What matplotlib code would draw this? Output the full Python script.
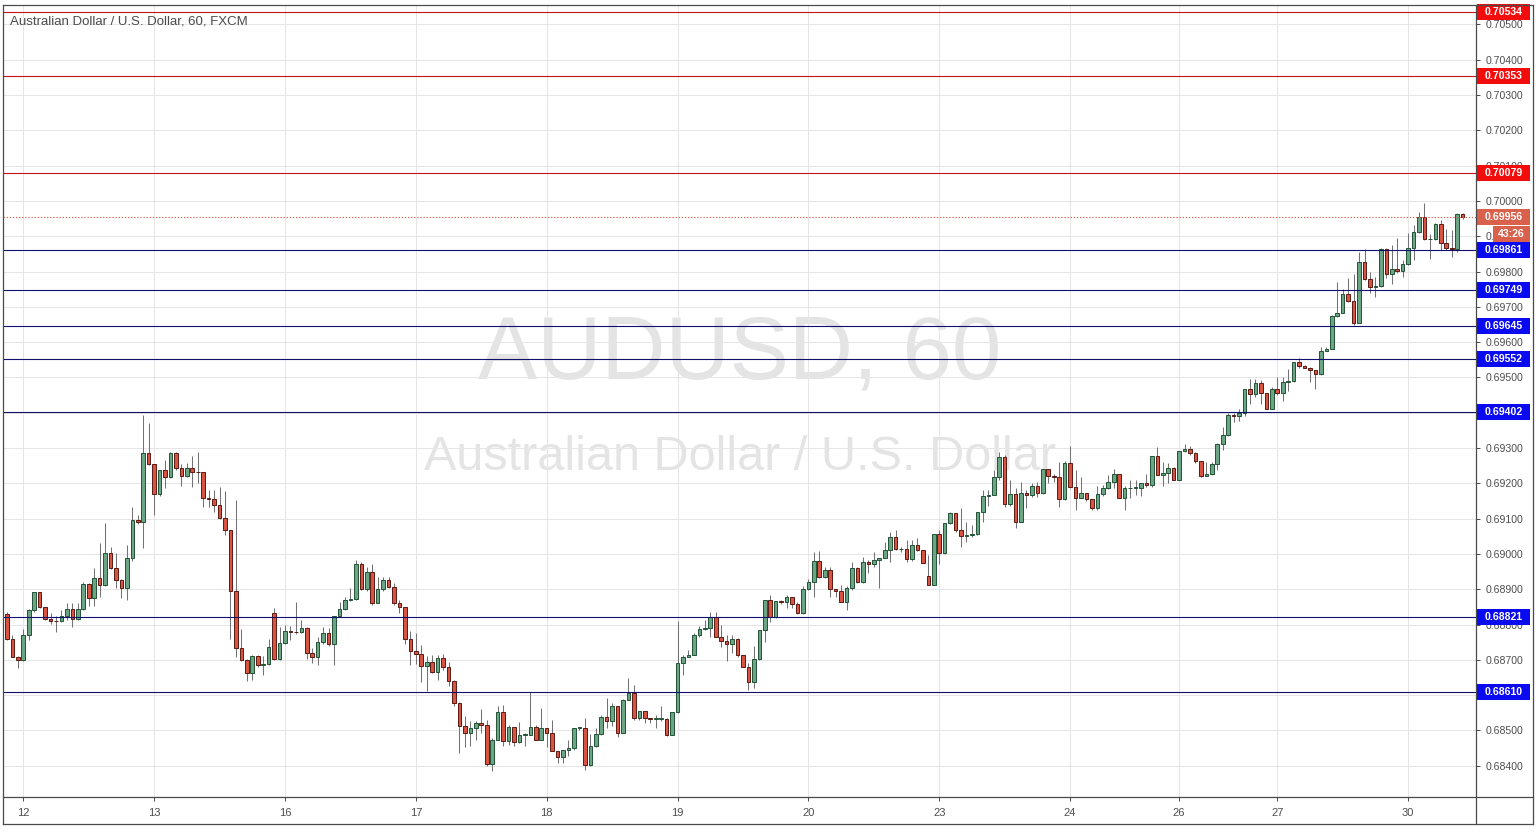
import matplotlib
matplotlib.use('Agg')
import matplotlib.pyplot as plt
from matplotlib.lines import Line2D
from matplotlib.patches import Rectangle
import numpy as np

plt.rcParams['font.family'] = ['Liberation Sans', 'DejaVu Sans']

# ---------------- data ----------------
title = "Australian Dollar / U.S. Dollar, 60, FXCM"
watermark_symbol = "AUDUSD, 60"
watermark_name = "Australian Dollar / U.S. Dollar"

day_labels = ['12', '13', '16', '17', '18', '19', '20', '23', '24', '26', '27', '30']
day_index = [3, 27, 51, 75, 99, 123, 147, 171, 195, 215, 233, 257]

first_open = 0.68829
gap_opens = {49: 0.68832, 169: 0.68938}

closes = [
    0.68759, 0.68709, 0.68700, 0.68771, 0.68840, 0.68891, 0.68849, 0.68816, 0.68810, 0.68809,
    0.68823, 0.68843, 0.68815, 0.68843, 0.68915, 0.68875, 0.68931, 0.68912, 0.69002, 0.68959,
    0.68926, 0.68903, 0.68990, 0.69096, 0.69091, 0.69285, 0.69256, 0.69170, 0.69238, 0.69217,
    0.69285, 0.69244, 0.69221, 0.69244, 0.69233, 0.69231, 0.69160, 0.69156, 0.69140, 0.69101,
    0.69068, 0.68896, 0.68733, 0.68700, 0.68662, 0.68711, 0.68686, 0.68688, 0.68736, 0.68702,
    0.68747, 0.68783, 0.68780, 0.68778, 0.68790, 0.68719, 0.68708, 0.68752, 0.68775, 0.68744,
    0.68823, 0.68843, 0.68870, 0.68872, 0.68972, 0.68900, 0.68948, 0.68862, 0.68900, 0.68926,
    0.68906, 0.68860, 0.68849, 0.68759, 0.68724, 0.68716, 0.68684, 0.68695, 0.68667, 0.68705,
    0.68679, 0.68640, 0.68577, 0.68513, 0.68492, 0.68507, 0.68521, 0.68516, 0.68405, 0.68474,
    0.68552, 0.68469, 0.68509, 0.68466, 0.68488, 0.68488, 0.68511, 0.68474, 0.68507, 0.68494,
    0.68443, 0.68425, 0.68445, 0.68449, 0.68507, 0.68507, 0.68403, 0.68455, 0.68490, 0.68538,
    0.68526, 0.68570, 0.68494, 0.68585, 0.68606, 0.68535, 0.68554, 0.68535, 0.68532, 0.68532,
    0.68533, 0.68488, 0.68552, 0.68691, 0.68707, 0.68714, 0.68771, 0.68787, 0.68789, 0.68822,
    0.68766, 0.68754, 0.68745, 0.68758, 0.68714, 0.68681, 0.68638, 0.68702, 0.68786, 0.68871,
    0.68822, 0.68868, 0.68864, 0.68877, 0.68858, 0.68832, 0.68900, 0.68921, 0.68980, 0.68934,
    0.68955, 0.68902, 0.68894, 0.68863, 0.68903, 0.68959, 0.68921, 0.68976, 0.68971, 0.68983,
    0.68988, 0.69011, 0.69047, 0.69013, 0.69013, 0.68985, 0.69025, 0.69011, 0.68975, 0.68912,
    0.69058, 0.69004, 0.69087, 0.69115, 0.69068, 0.69051, 0.69053, 0.69056, 0.69120, 0.69164,
    0.69167, 0.69217, 0.69275, 0.69143, 0.69169, 0.69091, 0.69172, 0.69166, 0.69192, 0.69174,
    0.69242, 0.69221, 0.69217, 0.69155, 0.69259, 0.69189, 0.69160, 0.69172, 0.69155, 0.69129,
    0.69169, 0.69186, 0.69205, 0.69226, 0.69160, 0.69186, 0.69188, 0.69188, 0.69200, 0.69195,
    0.69277, 0.69224, 0.69230, 0.69245, 0.69211, 0.69293, 0.69298, 0.69285, 0.69264, 0.69221,
    0.69226, 0.69255, 0.69313, 0.69337, 0.69394, 0.69391, 0.69400, 0.69466, 0.69453, 0.69483,
    0.69455, 0.69412, 0.69466, 0.69455, 0.69488, 0.69491, 0.69544, 0.69532, 0.69527, 0.69521,
    0.69511, 0.69576, 0.69582, 0.69674, 0.69683, 0.69736, 0.69717, 0.69655, 0.69828, 0.69778,
    0.69757, 0.69759, 0.69863, 0.69793, 0.69806, 0.69802, 0.69821, 0.69866, 0.69913, 0.69954,
    0.69891, 0.69892, 0.69935, 0.69880, 0.69866, 0.69863, 0.69962, 0.69956,
]

highs = [
    0.68837, 0.68771, 0.68711, 0.68787, 0.68843, 0.68893, 0.68893, 0.68851, 0.68832, 0.68825,
    0.68840, 0.68860, 0.68860, 0.68862, 0.68922, 0.68917, 0.68959, 0.69030, 0.69089, 0.69021,
    0.69002, 0.68928, 0.69025, 0.69132, 0.69110, 0.69394, 0.69372, 0.69256, 0.69239, 0.69266,
    0.69289, 0.69289, 0.69256, 0.69258, 0.69277, 0.69288, 0.69230, 0.69181, 0.69181, 0.69190,
    0.69179, 0.69068, 0.69153, 0.68787, 0.68702, 0.68714, 0.68713, 0.68711, 0.68759, 0.68846,
    0.68794, 0.68799, 0.68796, 0.68865, 0.68813, 0.68792, 0.68733, 0.68766, 0.68792, 0.68790,
    0.68825, 0.68865, 0.68879, 0.68903, 0.68983, 0.68978, 0.68964, 0.68972, 0.68936, 0.68936,
    0.68936, 0.68917, 0.68870, 0.68851, 0.68783, 0.68776, 0.68743, 0.68710, 0.68714, 0.68714,
    0.68717, 0.68693, 0.68644, 0.68582, 0.68540, 0.68526, 0.68526, 0.68560, 0.68530, 0.68478,
    0.68568, 0.68573, 0.68516, 0.68509, 0.68523, 0.68492, 0.68610, 0.68516, 0.68563, 0.68507,
    0.68530, 0.68443, 0.68445, 0.68474, 0.68507, 0.68511, 0.68535, 0.68491, 0.68507, 0.68544,
    0.68592, 0.68577, 0.68570, 0.68589, 0.68648, 0.68629, 0.68554, 0.68554, 0.68535, 0.68544,
    0.68568, 0.68535, 0.68552, 0.68809, 0.68714, 0.68728, 0.68776, 0.68796, 0.68813, 0.68837,
    0.68837, 0.68799, 0.68770, 0.68770, 0.68761, 0.68714, 0.68690, 0.68739, 0.68786, 0.68871,
    0.68884, 0.68868, 0.68871, 0.68884, 0.68879, 0.68865, 0.68909, 0.68928, 0.69006, 0.69009,
    0.68964, 0.68964, 0.68902, 0.68912, 0.68909, 0.68978, 0.68964, 0.68992, 0.68983, 0.69006,
    0.68990, 0.69035, 0.69063, 0.69068, 0.69019, 0.69039, 0.69039, 0.69044, 0.69011, 0.68997,
    0.69058, 0.69068, 0.69087, 0.69120, 0.69115, 0.69129, 0.69091, 0.69082, 0.69120, 0.69181,
    0.69181, 0.69238, 0.69290, 0.69280, 0.69209, 0.69186, 0.69205, 0.69181, 0.69200, 0.69205,
    0.69242, 0.69242, 0.69226, 0.69261, 0.69264, 0.69306, 0.69238, 0.69217, 0.69174, 0.69155,
    0.69192, 0.69195, 0.69224, 0.69240, 0.69226, 0.69192, 0.69209, 0.69211, 0.69200, 0.69226,
    0.69277, 0.69304, 0.69261, 0.69259, 0.69247, 0.69293, 0.69313, 0.69306, 0.69290, 0.69264,
    0.69261, 0.69261, 0.69315, 0.69360, 0.69400, 0.69400, 0.69410, 0.69466, 0.69497, 0.69497,
    0.69493, 0.69455, 0.69474, 0.69502, 0.69502, 0.69525, 0.69544, 0.69554, 0.69535, 0.69531,
    0.69521, 0.69587, 0.69587, 0.69677, 0.69771, 0.69752, 0.69783, 0.69793, 0.69856, 0.69863,
    0.69800, 0.69784, 0.69868, 0.69866, 0.69875, 0.69894, 0.69833, 0.69908, 0.69932, 0.69970,
    0.69995, 0.69906, 0.69937, 0.69946, 0.69922, 0.69918, 0.69967, 0.69967,
]

lows = [
    0.68757, 0.68708, 0.68676, 0.68698, 0.68757, 0.68837, 0.68846, 0.68813, 0.68802, 0.68780,
    0.68808, 0.68813, 0.68794, 0.68813, 0.68841, 0.68853, 0.68853, 0.68879, 0.68910, 0.68957,
    0.68903, 0.68874, 0.68870, 0.68981, 0.69085, 0.69016, 0.69252, 0.69110, 0.69164, 0.69186,
    0.69214, 0.69238, 0.69192, 0.69219, 0.69190, 0.69200, 0.69132, 0.69132, 0.69120, 0.69098,
    0.69054, 0.68759, 0.68709, 0.68698, 0.68639, 0.68643, 0.68681, 0.68658, 0.68686, 0.68700,
    0.68700, 0.68745, 0.68757, 0.68774, 0.68775, 0.68702, 0.68692, 0.68686, 0.68745, 0.68738,
    0.68686, 0.68821, 0.68841, 0.68868, 0.68870, 0.68898, 0.68896, 0.68856, 0.68860, 0.68896,
    0.68903, 0.68856, 0.68832, 0.68745, 0.68686, 0.68689, 0.68636, 0.68613, 0.68662, 0.68644,
    0.68672, 0.68625, 0.68570, 0.68436, 0.68453, 0.68457, 0.68474, 0.68492, 0.68400, 0.68384,
    0.68474, 0.68457, 0.68459, 0.68455, 0.68464, 0.68455, 0.68488, 0.68474, 0.68474, 0.68453,
    0.68443, 0.68408, 0.68408, 0.68428, 0.68445, 0.68502, 0.68389, 0.68400, 0.68453, 0.68488,
    0.68507, 0.68513, 0.68481, 0.68492, 0.68585, 0.68530, 0.68530, 0.68521, 0.68521, 0.68507,
    0.68526, 0.68483, 0.68488, 0.68549, 0.68658, 0.68708, 0.68714, 0.68766, 0.68785, 0.68766,
    0.68766, 0.68737, 0.68698, 0.68720, 0.68709, 0.68681, 0.68615, 0.68619, 0.68700, 0.68752,
    0.68808, 0.68820, 0.68858, 0.68846, 0.68846, 0.68830, 0.68830, 0.68898, 0.68879, 0.68931,
    0.68931, 0.68879, 0.68879, 0.68863, 0.68841, 0.68898, 0.68917, 0.68917, 0.68945, 0.68964,
    0.68905, 0.68988, 0.68978, 0.69011, 0.69006, 0.68978, 0.68981, 0.69009, 0.68975, 0.68912,
    0.68912, 0.68973, 0.69000, 0.69085, 0.69063, 0.69021, 0.69035, 0.69049, 0.69054, 0.69091,
    0.69136, 0.69167, 0.69211, 0.69134, 0.69136, 0.69073, 0.69091, 0.69129, 0.69162, 0.69162,
    0.69170, 0.69202, 0.69205, 0.69132, 0.69153, 0.69186, 0.69126, 0.69160, 0.69151, 0.69126,
    0.69126, 0.69164, 0.69183, 0.69186, 0.69158, 0.69124, 0.69158, 0.69167, 0.69164, 0.69191,
    0.69191, 0.69224, 0.69192, 0.69200, 0.69209, 0.69209, 0.69290, 0.69280, 0.69257, 0.69219,
    0.69221, 0.69224, 0.69238, 0.69296, 0.69334, 0.69375, 0.69377, 0.69391, 0.69426, 0.69444,
    0.69426, 0.69412, 0.69410, 0.69450, 0.69434, 0.69463, 0.69488, 0.69526, 0.69526, 0.69488,
    0.69466, 0.69507, 0.69576, 0.69583, 0.69672, 0.69682, 0.69715, 0.69648, 0.69653, 0.69776,
    0.69738, 0.69729, 0.69757, 0.69781, 0.69766, 0.69797, 0.69784, 0.69819, 0.69833, 0.69910,
    0.69889, 0.69837, 0.69889, 0.69861, 0.69861, 0.69842, 0.69856, 0.69948,
]

resistance_levels = [0.70534, 0.70353, 0.70079]
support_levels = [0.69861, 0.69749, 0.69645, 0.69552, 0.69402, 0.68821, 0.68610]
last_price = 0.69956
countdown = "43:26"
price_ticks = [0.684, 0.685, 0.686, 0.687, 0.688, 0.689, 0.690, 0.691, 0.692, 0.693,
               0.694, 0.695, 0.696, 0.697, 0.698, 0.699, 0.700, 0.701, 0.702, 0.703,
               0.704, 0.705]

# ---------------- derived ----------------
n = len(closes)
idx = np.arange(n)
closes_a = np.array(closes)
opens_a = np.empty(n)
opens_a[0] = first_open
opens_a[1:] = closes_a[:-1]
for k, v in gap_opens.items():
    opens_a[k] = v
highs_a = np.maximum(np.array(highs), np.maximum(opens_a, closes_a))
lows_a = np.minimum(np.array(lows), np.minimum(opens_a, closes_a))

# ---------------- layout ----------------
W, H = 1540, 833
fig = plt.figure(figsize=(W / 100, H / 100), dpi=100)
fig.patch.set_facecolor('white')


def fx(px):
    return px / W


def fy(py):
    return 1 - py / H


PL, PR, PT, PB = 3, 1476, 5, 797
ax = fig.add_axes([fx(PL), fy(PB), fx(PR) - fx(PL), fy(PT) - fy(PB)])
ax.set_xlim(-0.72, 269.45)
ymin, ymax = 0.683116, 0.705552
ax.set_ylim(ymin, ymax)
for s in ax.spines.values():
    s.set_visible(False)
ax.set_axisbelow(True)

# grid + ticks
ax.set_xticks(day_index)
ax.set_xticklabels(day_labels)
ax.set_yticks(price_ticks)
ax.set_yticklabels([f'{v:.5f}' for v in price_ticks])
ax.yaxis.tick_right()
ax.grid(True, color='#e6e6e6', linewidth=0.75)
axis_col = '#4a4a4a'
ax.tick_params(axis='x', direction='out', length=3, width=0.7, pad=5,
               labelsize=8, colors=axis_col, labelcolor='#4d4d4d')
ax.tick_params(axis='y', direction='out', length=3, width=0.7, pad=4,
               labelsize=7.6, colors=axis_col, labelcolor='#4d4d4d',
               left=False, right=True)

# watermark
ax.text(0.5, (PB - 355) / (PB - PT), watermark_symbol, transform=ax.transAxes,
        ha='center', va='center', fontsize=64, color='#e4e4e4', zorder=0.1)
ax.text(0.5, (PB - 458) / (PB - PT), watermark_name, transform=ax.transAxes,
        ha='center', va='center', fontsize=35, color='#e4e4e4', zorder=0.1)

# candles
up = closes_a >= opens_a
body_bottom = np.minimum(opens_a, closes_a)
body_h = np.maximum(np.abs(closes_a - opens_a), 0.00002)
ax.vlines(idx, lows_a, highs_a, color='#737375', linewidth=0.75, zorder=3)
ax.bar(idx[up], body_h[up], bottom=body_bottom[up], width=0.66,
       color='#6ba583', edgecolor='#225437', linewidth=0.7, zorder=4)
ax.bar(idx[~up], body_h[~up], bottom=body_bottom[~up], width=0.66,
       color='#d75442', edgecolor='#5b1a13', linewidth=0.7, zorder=4)

# horizontal levels
for lv in resistance_levels:
    ax.axhline(lv, color='#c0121b', linewidth=0.8, zorder=5)
for lv in support_levels:
    ax.axhline(lv, color='#10106e', linewidth=0.8, zorder=5)
ax.axhline(last_price, color='#d9604b', linewidth=0.8, linestyle=(0, (1.2, 1.6)), zorder=5)

# price labels on the right scale
ytr = ax.get_yaxis_transform()
px_per_data = (PB - PT) / (ymax - ymin)
box_h = 16 / px_per_data


def ax_frac(px):
    return (px - PL) / (PR - PL)


def price_box(level, face, text, x0=1477, x1=1530, yoff=0.0):
    y = level + yoff
    ax.add_patch(Rectangle((ax_frac(x0), y - box_h / 2), ax_frac(x1) - ax_frac(x0), box_h,
                           transform=ytr, facecolor=face, edgecolor='none',
                           clip_on=False, zorder=6))
    ax.text((ax_frac(x0) + ax_frac(x1)) / 2, y, text, transform=ytr, ha='center',
            va='center', fontsize=7.6, fontweight='bold', color='white',
            clip_on=False, zorder=7)


for lv in resistance_levels:
    price_box(lv, '#f20d0d', f'{lv:.5f}')
for lv in support_levels:
    price_box(lv, '#0a0af0', f'{lv:.5f}')
price_box(last_price, '#d9604b', f'{last_price:.5f}')
price_box(last_price, '#d9604b', countdown, x0=1493, x1=1530, yoff=-17 / px_per_data)

# title
fig.text(fx(10), fy(21), title, ha='left', va='center', fontsize=9.5, color='#4a4a4a')

# frame lines
bc = '#4a4a4a'
lw = 0.9
for (x0, y0, x1, y1) in [(3, 5, 1533, 5), (3, 824, 1533, 824), (3, 5, 3, 824),
                         (1533, 5, 1533, 824), (1476, 5, 1476, 824), (3, 797, 1533, 797)]:
    fig.add_artist(Line2D([fx(x0), fx(x1)], [fy(y0), fy(y1)], color=bc, linewidth=lw))

fig.savefig('out.png', dpi=100, facecolor='white')
